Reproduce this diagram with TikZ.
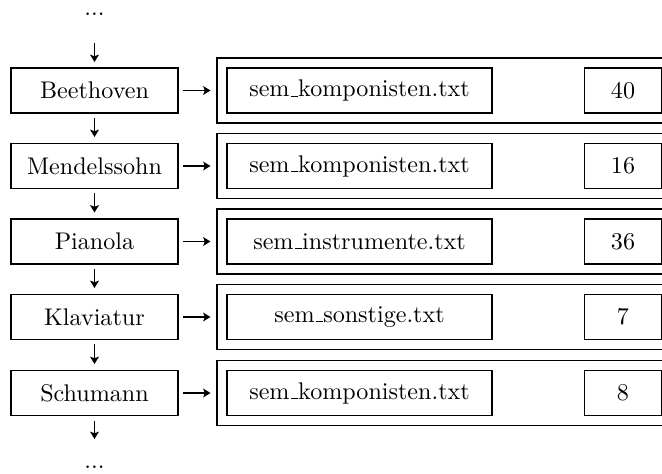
\documentclass[tikz,border=0pt]{standalone}
\usetikzlibrary{arrows.meta}
\newcommand\usc{\leavevmode\kern.06em\vbox{\hrule width.3em}}
\begin{document}
\begin{tikzpicture}[x=0.415pt,y=-0.415pt,
  every node/.style={inner sep=0pt, outer sep=0pt},
  lbox/.style={draw, line width=0.6pt, minimum width=167*0.415pt, minimum height=45*0.415pt},
  filebox/.style={draw, line width=0.6pt, minimum width=265*0.415pt, minimum height=45*0.415pt},
  numbox/.style={draw, line width=0.6pt, minimum width=77*0.415pt, minimum height=45*0.415pt},
  outerbox/.style={draw, line width=0.6pt, minimum width=483*0.415pt, minimum height=65*0.415pt},
  arr/.style={line width=0.6pt, -{Stealth[length=3pt,width=3.6pt,inset=0.6pt]}},
  gap/.style={shorten <=5*0.415pt, shorten >=6.5*0.415pt}
]
\useasboundingbox (0,0) rectangle (662,474);

\node[anchor=base] (top) at (94.5,15.5) {...};
\coordinate (ts) at (94.5,43);
\node[anchor=base] (bot) at (94.5,468.3) {...};
\coordinate (be) at (94.5,439);

\node[lbox] (b1) at (94.5,90.5) {Beethoven};
\node[lbox] (b2) at (94.5,166) {Mendelssohn};
\node[lbox] (b3) at (94.5,241.5) {Pianola};
\node[lbox] (b4) at (94.5,317) {Klaviatur};
\node[lbox] (b5) at (94.5,393) {Schumann};

\node[outerbox] (o1) at (458.5,90.5) {};
\node[outerbox] (o2) at (458.5,166) {};
\node[outerbox] (o3) at (458.5,241.5) {};
\node[outerbox] (o4) at (458.5,317) {};
\node[outerbox] (o5) at (458.5,393) {};

\node[filebox] (f1) at (359.5,90.5) {sem\usc komponisten.txt};
\node[filebox] (f2) at (359.5,166) {sem\usc komponisten.txt};
\node[filebox] (f3) at (359.5,241.5) {sem\usc instrumente.txt};
\node[filebox] (f4) at (359.5,317) {sem\usc sonstige.txt};
\node[filebox] (f5) at (359.5,393) {sem\usc komponisten.txt};

\node[numbox] (n1) at (623,90.5) {40};
\node[numbox] (n2) at (623,166) {16};
\node[numbox] (n3) at (623,241.5) {36};
\node[numbox] (n4) at (623,317) {7};
\node[numbox] (n5) at (623,393) {8};

\draw[arr, shorten >=6*0.415pt] (ts) -- (b1);
\draw[arr, gap] (b1) -- (b2);
\draw[arr, gap] (b2) -- (b3);
\draw[arr, gap] (b3) -- (b4);
\draw[arr, gap] (b4) -- (b5);
\draw[arr, shorten <=6*0.415pt] (b5) -- (be);

\draw[arr, gap] (b1) -- (o1);
\draw[arr, gap] (b2) -- (o2);
\draw[arr, gap] (b3) -- (o3);
\draw[arr, gap] (b4) -- (o4);
\draw[arr, gap] (b5) -- (o5);
\end{tikzpicture}
\end{document}
